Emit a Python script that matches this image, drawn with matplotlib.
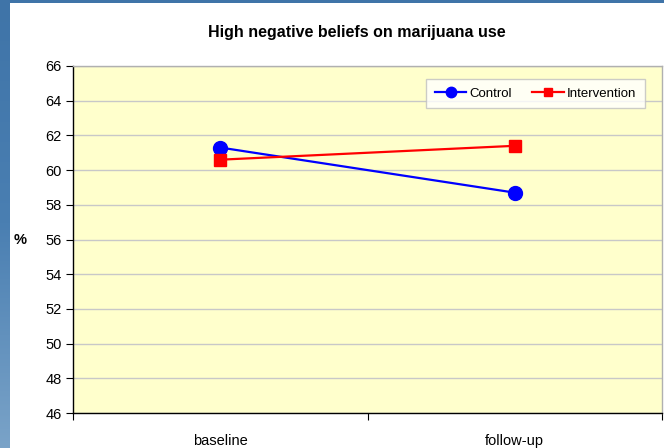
import numpy as np
import matplotlib
matplotlib.use("Agg")
import matplotlib.pyplot as plt
from matplotlib.patches import Rectangle
from matplotlib.colors import LinearSegmentedColormap

plt.rcParams['font.family'] = ['Liberation Sans', 'DejaVu Sans']

# Data
categories = ["baseline", "follow-up"]
control = [61.3, 58.7]
intervention = [60.6, 61.4]
y_ticks = [46, 48, 50, 52, 54, 56, 58, 60, 62, 64, 66]
title = "High negative beliefs on marijuana use"

W, H = 664, 448
fig = plt.figure(figsize=(W / 100, H / 100), dpi=100)

# Slide background: blue gradient behind the white chart panel
bg = fig.add_axes([0, 0, 1, 1], zorder=-10)
grad = np.linspace(0, 1, 256).reshape(-1, 1)
cmap = LinearSegmentedColormap.from_list("slide", ["#3f74a8", "#4a7fb2", "#7aa3c8"])
bg.imshow(grad, aspect="auto", cmap=cmap, extent=[0, 1, 0, 1], origin="upper")
bg.set_xlim(0, 1)
bg.set_ylim(0, 1)
bg.axis("off")
bg.add_patch(Rectangle((10 / W, 0), 1 - 10 / W, 1 - 3 / H, facecolor="white",
                       edgecolor="none", transform=bg.transAxes))

ax = fig.add_axes([73 / W, 1 - 413 / H, (662 - 73) / W, (413 - 66) / H])
ax.set_facecolor("#ffffcc")

x = np.arange(len(categories)) + 0.5
ax.plot(x, control, color="#0000ff", lw=1.6, marker="o", ms=10, label="Control", zorder=3)
ax.plot(x, intervention, color="#ff0000", lw=1.6, marker="s", ms=8.5, label="Intervention", zorder=3)

ax.set_xlim(0, len(categories))
ax.set_ylim(y_ticks[0], y_ticks[-1])
ax.set_yticks(y_ticks)
ax.set_yticklabels([str(v) for v in y_ticks], fontsize=10.5)
ax.yaxis.grid(True, color="#c8c8c8", lw=1)
ax.set_axisbelow(True)

ax.set_xticks(np.arange(len(categories) + 1))
ax.set_xticklabels([])
ax.set_xticks(x, minor=True)
ax.set_xticklabels(categories, minor=True, fontsize=10.5)
ax.tick_params(axis="x", which="minor", length=0, pad=15)
ax.tick_params(axis="x", which="major", length=5, direction="out", color="black")
ax.tick_params(axis="y", length=5, direction="out", pad=3, color="black")

for side in ("left", "bottom"):
    ax.spines[side].set_color("black")
    ax.spines[side].set_linewidth(1)
for side in ("top", "right"):
    ax.spines[side].set_color("#b0b0b0")
    ax.spines[side].set_linewidth(1)

ax.set_ylabel("%", fontsize=10.5, fontweight="bold", rotation=0, labelpad=18, va="center")

fig.text(357 / W, 1 - 33 / H, title, ha="center", va="center", fontsize=11.5, fontweight="bold")

leg = ax.legend(loc="upper right", bbox_to_anchor=(645 / W, 1 - 79 / H),
                bbox_transform=fig.transFigure, ncol=2, fontsize=9.5,
                frameon=True, fancybox=False, handlelength=2.4, handletextpad=0.25,
                columnspacing=1.5, borderpad=0.65, borderaxespad=0, markerscale=0.75)
leg.get_frame().set_edgecolor("#c0c0c0")
leg.get_frame().set_linewidth(1)
leg.get_frame().set_facecolor("white")

fig.savefig("out.png", dpi=100)
